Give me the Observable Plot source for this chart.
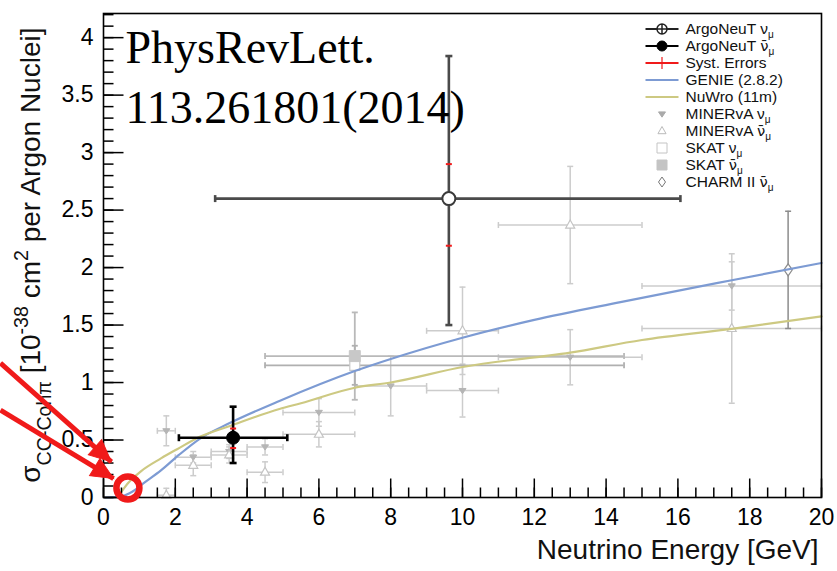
<!DOCTYPE html>
<html>
<head>
<meta charset="utf-8">
<script src="https://cdn.jsdelivr.net/npm/d3@7"></script>
<script src="https://cdn.jsdelivr.net/npm/@observablehq/plot@0.6"></script>
<style>
html,body{margin:0;padding:0;background:#fff;}
#chart{width:837px;height:571px;}
svg{display:block;}
</style>
</head>
<body>
<div id="chart"></div>
<script>
// ---------------- data ----------------
const xTicks = [0, 2, 4, 6, 8, 10, 12, 14, 16, 18, 20];
const yTicks = [0, 0.5, 1, 1.5, 2, 2.5, 3, 3.5, 4];

// ArgoNeuT (nu, nubar)
const argoE        = [9.62, 3.61];
const argoSigma    = [2.60, 0.52];
const argoELow     = [3.11, 2.10];
const argoEHigh    = [16.07, 5.12];
const argoStatLow  = [1.50, 0.30];
const argoStatHigh = [3.84, 0.79];
const argoSystLow  = [2.19, 0.43];
const argoSystHigh = [2.90, 0.60];

// MINERvA nu
const minervaNuE     = [1.75, 2.5, 3.5, 4.5, 6, 8, 10, 13, 17.5];
const minervaNuLow   = [1.5, 2, 3, 4, 5, 7, 9, 11, 15];
const minervaNuHigh  = [2, 3, 4, 5, 7, 9, 11, 15, 20];
const minervaNuSigma = [0.58, 0.35, 0.40, 0.44, 0.74, 0.97, 0.93, 1.22, 1.84];
const minervaNuErr   = [0.13, 0.05, 0.06, 0.07, 0.12, 0.26, 0.23, 0.24, 0.21];

// MINERvA nubar
const minervaNubarE     = [1.75, 2.5, 3.5, 4.5, 6, 10, 13, 17.5];
const minervaNubarLow   = [1.5, 2, 3, 4, 5, 9, 11, 15];
const minervaNubarHigh  = [2, 3, 4, 5, 7, 11, 15, 20];
const minervaNubarSigma = [0.02, 0.28, 0.37, 0.22, 0.55, 1.45, 2.37, 1.47];
const minervaNubarErr   = [0.06, 0.09, 0.07, 0.09, 0.11, 0.38, 0.51, 0.65];

// SKAT
const skatE        = [7.0];
const skatELow     = [4.5];
const skatEHigh    = [14.5];
const skatNuSigma  = [1.15];
const skatNuErr    = [0.17];
const skatNubarSigma = [1.23];
const skatNubarErr   = [0.38];

// CHARM II
const charmE     = [19.07];
const charmSigma = [1.98];
const charmErr   = [0.51];

// Model curves
const genieE     = [0.05, 0.5, 0.8, 1.1, 1.6, 2.1, 2.7, 3.5, 4.9, 7, 8, 10, 12, 14.4, 17.5, 20];
const genieSigma = [0.0, 0.01, 0.05, 0.12, 0.235, 0.37, 0.515, 0.645, 0.84, 1.10, 1.205, 1.39, 1.545, 1.70, 1.89, 2.04];
const nuwroE     = [0.5, 0.7, 0.9, 1.05, 1.6, 2.05, 2.7, 3.5, 4.9, 5.5, 7, 8, 10, 13, 15, 17.5, 20];
const nuwroSigma = [0.05, 0.13, 0.19, 0.23, 0.34, 0.42, 0.53, 0.62, 0.77, 0.82, 0.955, 1.0, 1.135, 1.26, 1.37, 1.467, 1.575];

// Annotation (red circle + arrows), in data units
const circleAt = [{E: 0.68, s: 0.083}];
const arrowLines = [
  {E1: -2.87, s1: 1.17, E2: 0.22, s2: 0.31},
  {E1: -2.87, s1: 0.76, E2: 0.28, s2: 0.165}
];

const titleText = "PhysRevLett.\n113.261801(2014)";
const xLabel = "Neutrino Energy [GeV]";
const yLabel = "σ_{CC-Cohπ} [10^{-38} cm^{2} per Argon Nuclei]";
const legendLabels = [
  "ArgoNeuT ν_{μ}", "ArgoNeuT ~{ν}_{μ}", "Syst. Errors", "GENIE (2.8.2)", "NuWro (11m)",
  "MINERvA ν_{μ}", "MINERvA ~{ν}_{μ}", "SKAT ν_{μ}", "SKAT ~{ν}_{μ}", "CHARM II ~{ν}_{μ}"
];

// ---------------- helpers ----------------
const RED = "#f01a1a", BLUE = "#7d9bd3", YELLOW = "#cdc982";
const M = {left: 103, right: 16, top: 13, bottom: 74, width: 837, height: 571};
const X_DOMAIN = [0, 20], Y_DOMAIN = [0, 4.21];

const capH = len => ({draw(c){ c.moveTo(-len/2, 0); c.lineTo(len/2, 0); }});
const capV = len => ({draw(c){ c.moveTo(0, -len/2); c.lineTo(0, len/2); }});
const tickUp = len => ({draw(c){ c.moveTo(0, 0); c.lineTo(0, -len); }});
const tickRight = len => ({draw(c){ c.moveTo(0, 0); c.lineTo(len, 0); }});
const triDown = s => ({draw(c){ c.moveTo(-s, -s*0.6); c.lineTo(s, -s*0.6); c.lineTo(0, s*0.9); c.closePath(); }});
const triUp = s => ({draw(c){ c.moveTo(0, -s); c.lineTo(s*0.9, s*0.6); c.lineTo(-s*0.9, s*0.6); c.closePath(); }});
const square = s => ({draw(c){ c.moveTo(-s, -s); c.lineTo(s, -s); c.lineTo(s, s); c.lineTo(-s, s); c.closePath(); }});
const diamond = s => ({draw(c){ c.moveTo(0, -s); c.lineTo(s*0.7, 0); c.lineTo(0, s); c.lineTo(-s*0.7, 0); c.closePath(); }});
const circlePlus = r => ({draw(c){ c.moveTo(r, 0); c.arc(0, 0, r, 0, 2*Math.PI); c.moveTo(-r, 0); c.lineTo(r, 0); c.moveTo(0, -r); c.lineTo(0, r); }});
const circle = r => ({draw(c){ c.moveTo(r, 0); c.arc(0, 0, r, 0, 2*Math.PI); }});
const hline = len => ({draw(c){ c.moveTo(-len/2, 0); c.lineTo(len/2, 0); }});
const arrowHead = (len, half) => ({draw(c){ c.moveTo(0, 0); c.lineTo(half, len); c.lineTo(-half, len); c.closePath(); }});

function rows(E, sigma, lo, hi, err) {
  return E.map((e, i) => ({E: e, s: sigma[i], xlo: lo[i], xhi: hi[i],
    ylo: Math.max(0, sigma[i] - err[i]), yhi: sigma[i] + err[i]}));
}
function errorBars(data, color, width, cap, horiz = true) {
  const o = {stroke: color, strokeWidth: width, fill: "none"};
  const m = [
    Plot.ruleX(data, {x: "E", y1: "ylo", y2: "yhi", ...o}),
    Plot.dot(data.filter(d => d.ylo > 0), {x: "E", y: "ylo", symbol: capH(cap), ...o}),
    Plot.dot(data, {x: "E", y: "yhi", symbol: capH(cap), ...o})
  ];
  if (horiz) m.push(
    Plot.ruleY(data, {y: "s", x1: "xlo", x2: "xhi", ...o}),
    Plot.dot(data, {x: "xlo", y: "s", symbol: capV(cap), ...o}),
    Plot.dot(data, {x: "xhi", y: "s", symbol: capV(cap), ...o})
  );
  return m;
}

const mNu = rows(minervaNuE, minervaNuSigma, minervaNuLow, minervaNuHigh, minervaNuErr);
const mNubar = rows(minervaNubarE, minervaNubarSigma, minervaNubarLow, minervaNubarHigh, minervaNubarErr);
const sNu = rows(skatE, skatNuSigma, skatELow, skatEHigh, skatNuErr);
const sNubar = rows(skatE, skatNubarSigma, skatELow, skatEHigh, skatNubarErr);
const charm = charmE.map((e, i) => ({E: e, s: charmSigma[i], xlo: e - 0.25, xhi: e + 0.25,
  ylo: charmSigma[i] - charmErr[i], yhi: charmSigma[i] + charmErr[i]}));
const argo = argoE.map((e, i) => ({E: e, s: argoSigma[i], xlo: argoELow[i], xhi: argoEHigh[i],
  ylo: argoStatLow[i], yhi: argoStatHigh[i], sylo: argoSystLow[i], syhi: argoSystHigh[i]}));
const genie = genieE.map((e, i) => ({E: e, s: genieSigma[i]}));
const nuwro = nuwroE.map((e, i) => ({E: e, s: nuwroSigma[i]}));

// arrow-head orientation, measured with the same scales the plot uses
const sx = Plot.scale({x: {domain: X_DOMAIN, range: [M.left, M.width - M.right]}});
const sy = Plot.scale({y: {domain: Y_DOMAIN, range: [M.height - M.bottom, M.top]}});
const arrowTips = arrowLines.map(a => {
  const dxp = sx.apply(a.E2) - sx.apply(a.E1), dyp = sy.apply(a.s2) - sy.apply(a.s1);
  return {E: a.E2, s: a.s2, angle: Math.atan2(dxp, -dyp) * 180 / Math.PI};
});

// legend styling per row
const legendStyle = [
  {line: "#222", sym: circlePlus(5), fill: "white", stroke: "#222", sw: 1.5},
  {line: "#000", sym: circle(5), fill: "black", stroke: "black", sw: 1},
  {line: RED, sym: capV(12), fill: "none", stroke: RED, sw: 1.2},
  {line: BLUE},
  {line: YELLOW},
  {sym: triDown(3.5), fill: "#aaa", stroke: "#aaa", sw: 1},
  {sym: triUp(4.5), fill: "none", stroke: "#bbb", sw: 1},
  {sym: square(5), fill: "none", stroke: "#c4c4c4", sw: 1},
  {sym: square(5), fill: "#c4c4c4", stroke: "#c4c4c4", sw: 1},
  {sym: diamond(5), fill: "none", stroke: "#777", sw: 1}
];
const legendMarks = [];
legendLabels.forEach((lab, i) => {
  const dy = 15.5 + 17 * i;
  const st = legendStyle[i];
  if (st.line) legendMarks.push(Plot.dot([0], {frameAnchor: "top-right", dx: -159.5, dy, symbol: hline(33), stroke: st.line, strokeWidth: 1.8, fill: "none"}));
  if (st.sym) legendMarks.push(Plot.dot([0], {frameAnchor: "top-right", dx: -159.5, dy, symbol: st.sym, stroke: st.stroke, fill: st.fill, strokeWidth: st.sw}));
  legendMarks.push(Plot.text([lab], {frameAnchor: "top-right", dx: -136, dy, textAnchor: "start", lineAnchor: "middle", fontSize: 15.5, fill: "#111"}));
});

const xMinor = d3.range(0, 20.001, 0.5);
const yMinor = d3.range(0, 4.21, 0.1);

const plot = Plot.plot({
  width: M.width, height: M.height,
  marginLeft: M.left, marginRight: M.right, marginTop: M.top, marginBottom: M.bottom,
  x: {domain: X_DOMAIN, label: null},
  y: {domain: Y_DOMAIN, label: null},
  style: {fontFamily: "'Liberation Sans', Arial, Helvetica, sans-serif", background: "white", color: "black", overflow: "visible"},
  marks: [
    // other experiments
    ...errorBars(mNu, "#cccccc", 1.5, 6),
    ...errorBars(mNubar, "#cccccc", 1.5, 6),
    ...errorBars(sNubar, "#b9b9b9", 1.8, 6),
    ...errorBars(sNu, "#b0b0b0", 1.8, 6),
    ...errorBars(charm, "#8c8c8c", 1.5, 6, false),
    Plot.dot(mNu, {x: "E", y: "s", symbol: triDown(3.5), fill: "#b5b5b5", stroke: "#b5b5b5", strokeWidth: 1}),
    Plot.dot(mNubar, {x: "E", y: "s", symbol: triUp(5), fill: "white", stroke: "#c4c4c4", strokeWidth: 1.2}),
    Plot.dot(sNu, {x: "E", y: "s", symbol: square(5), fill: "white", stroke: "#c8c8c8", strokeWidth: 1.2}),
    Plot.dot(sNubar, {x: "E", y: "s", symbol: square(5.5), fill: "#c8c8c8", stroke: "#c8c8c8", strokeWidth: 1}),
    Plot.dot(charm, {x: "E", y: "s", symbol: diamond(6), fill: "white", stroke: "#8c8c8c", strokeWidth: 1.2}),
    // model curves
    Plot.line(genie, {x: "E", y: "s", stroke: BLUE, strokeWidth: 2.2, curve: "monotone-x"}),
    Plot.line(nuwro, {x: "E", y: "s", stroke: YELLOW, strokeWidth: 2.2, curve: "monotone-x"}),
    // ArgoNeuT
    ...errorBars([argo[0]], "#4a4a4a", 2.6, 7),
    ...errorBars([argo[1]], "#000000", 2.6, 7),
    Plot.dot(argo, {x: "E", y: "sylo", symbol: capH(6), stroke: RED, strokeWidth: 2, fill: "none"}),
    Plot.dot(argo, {x: "E", y: "syhi", symbol: capH(6), stroke: RED, strokeWidth: 2, fill: "none"}),
    Plot.dot([argo[0]], {x: "E", y: "s", r: 6.5, fill: "white", stroke: "#3a3a3a", strokeWidth: 2}),
    Plot.dot([argo[1]], {x: "E", y: "s", r: 6.5, fill: "black", stroke: "black", strokeWidth: 1}),
    // title text
    Plot.text([titleText], {frameAnchor: "top-left", dx: 22, dy: 6, textAnchor: "start", lineAnchor: "top", lineHeight: 1.32, fontSize: 46, fontFamily: "'Liberation Serif', 'Times New Roman', serif", fill: "black"}),
    // legend
    ...legendMarks,
    // frame + inward ticks
    Plot.frame({stroke: "black", strokeWidth: 1.6}),
    Plot.dot(xMinor, {x: d => d, frameAnchor: "bottom", symbol: tickUp(10), stroke: "black", strokeWidth: 1.5, fill: "none"}),
    Plot.dot(xTicks, {x: d => d, frameAnchor: "bottom", symbol: tickUp(19), stroke: "black", strokeWidth: 1.5, fill: "none"}),
    Plot.dot(yMinor, {y: d => d, frameAnchor: "left", symbol: tickRight(10), stroke: "black", strokeWidth: 1.5, fill: "none"}),
    Plot.dot(yTicks, {y: d => d, frameAnchor: "left", symbol: tickRight(20), stroke: "black", strokeWidth: 1.5, fill: "none"}),
    Plot.axisX({ticks: xTicks, tickSize: 0, tickPadding: 11, fontSize: 23, label: null, tickFormat: d => String(d)}),
    Plot.axisY({ticks: yTicks, tickSize: 0, tickPadding: 10, fontSize: 23, label: null, tickFormat: d => String(d)}),
    // axis titles
    Plot.text([xLabel], {frameAnchor: "bottom-right", dx: -3, dy: 61, textAnchor: "end", lineAnchor: "bottom", fontSize: 28, fill: "#111"}),
    Plot.text([yLabel], {frameAnchor: "top-left", dx: -64, dy: 14, rotate: -90, textAnchor: "end", lineAnchor: "bottom", fontSize: 28, fill: "#111"}),
    // red annotation
    Plot.link(arrowLines, {x1: "E1", y1: "s1", x2: "E2", y2: "s2", stroke: RED, strokeWidth: 5, strokeLinecap: "butt"}),
    Plot.dot(arrowTips, {x: "E", y: "s", rotate: "angle", symbol: arrowHead(22, 10), fill: RED, stroke: RED, strokeWidth: 1}),
    Plot.dot(circleAt, {x: "E", y: "s", r: 11.5, stroke: RED, strokeWidth: 6.5, fill: "none"})
  ]
});

// sub/superscripts and overbars
function richify(el) {
  const s = el.textContent;
  if (!/[_^~]\{/.test(s)) return;
  const fs = parseFloat(getComputedStyle(el).fontSize) || 16;
  const small = fs < 20;
  const subShift = small ? 0.24 : 0.42;
  const subSize = small ? 0.65 : 0.7;
  while (el.firstChild) el.removeChild(el.firstChild);
  const re = /([_^~])\{([^}]*)\}/g;
  const parts = [];
  let last = 0, m;
  while ((m = re.exec(s))) {
    if (m.index > last) parts.push({t: s.slice(last, m.index), k: ""});
    parts.push({t: m[2], k: m[1]});
    last = re.lastIndex;
  }
  if (last < s.length) parts.push({t: s.slice(last), k: ""});
  let shift = 0;
  for (const p of parts) {
    const ts = document.createElementNS("http://www.w3.org/2000/svg", "tspan");
    const target = p.k === "_" ? fs * subShift : p.k === "^" ? -fs * 0.42 : 0;
    if (target - shift !== 0) ts.setAttribute("dy", target - shift);
    shift = target;
    if (p.k === "_" || p.k === "^") ts.setAttribute("font-size", fs * subSize);
    if (p.k === "~") {
      ts.setAttribute("font-family", "'DejaVu Sans', sans-serif");
      ts.setAttribute("font-size", fs * 0.95);
      ts.textContent = p.t + "\u0304";
    } else {
      ts.textContent = p.t;
    }
    el.appendChild(ts);
  }
}
document.getElementById("chart").append(plot);
plot.querySelectorAll("text").forEach(richify);
</script>
</body>
</html>
